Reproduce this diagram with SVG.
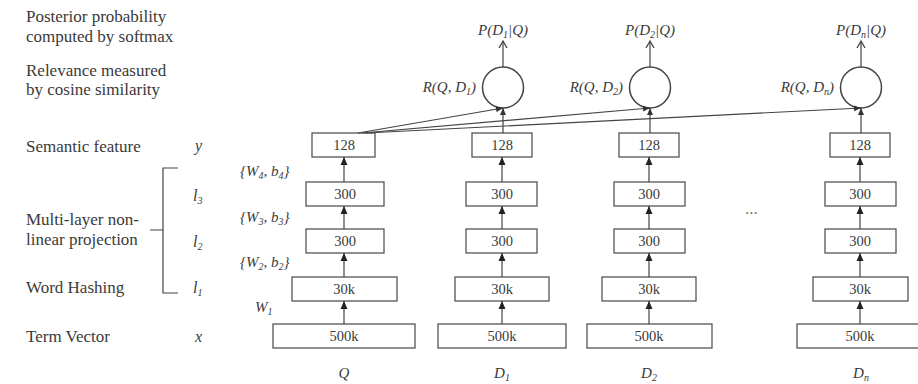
<svg xmlns="http://www.w3.org/2000/svg" width="918" height="384" viewBox="0 0 918 384">
<style>
text{font-family:"Liberation Serif","Times New Roman",serif;fill:#3a3a3a}
.lbl{font-size:17px}
.it{font-style:italic;font-size:15px}
.num{font-size:14.5px;text-anchor:middle}
.box{fill:#fff;stroke:#555;stroke-width:1.3}
.ln{stroke:#444;stroke-width:1.2;fill:none}
.cir{fill:#fff;stroke:#444;stroke-width:1.5}
.sub{font-size:10px}
</style>
<defs>
<marker id="fa" markerUnits="userSpaceOnUse" markerWidth="8" markerHeight="8" refX="8" refY="4" orient="auto"><path d="M0,0.5 L8,4 L0,7.5 z" fill="#222"/></marker>
<marker id="sa" markerUnits="userSpaceOnUse" markerWidth="7" markerHeight="7" refX="7" refY="3.5" orient="auto"><path d="M0,0.5 L7,3.5 L0,6.5 z" fill="#333"/></marker>
<marker id="oa" markerUnits="userSpaceOnUse" markerWidth="9" markerHeight="10" refX="7" refY="5" orient="auto"><path d="M0,1 L7,5 L0,9" fill="none" stroke="#444" stroke-width="1.3"/></marker>
</defs>

<g id="left-labels">
<text class="lbl" x="26" y="22">Posterior probability</text>
<text class="lbl" x="26" y="42">computed by softmax</text>
<text class="lbl" x="26" y="76">Relevance measured</text>
<text class="lbl" x="26" y="95">by cosine similarity</text>
<text class="lbl" x="26" y="152">Semantic feature</text>
<text class="lbl" x="26" y="225">Multi-layer non-</text>
<text class="lbl" x="26" y="245">linear projection</text>
<text class="lbl" x="26" y="293">Word Hashing</text>
<text class="lbl" x="26" y="342">Term Vector</text>
<text class="it" x="195" y="151" style="font-size:16px">y</text>
<text class="it" x="195" y="342" style="font-size:16px">x</text>
<text class="it" x="193" y="201" style="font-size:16px">l<tspan class="sub" dy="3">3</tspan></text>
<text class="it" x="193" y="247" style="font-size:16px">l<tspan class="sub" dy="3">2</tspan></text>
<text class="it" x="193" y="293" style="font-size:16px">l<tspan class="sub" dy="3">1</tspan></text>
<path class="ln" d="M178,168 H163 V293 H178 M150,230 H163"/>
</g>

<g id="weights">
<text class="it" x="240" y="176">{W<tspan class="sub" dy="3">4</tspan><tspan dy="-3">, b</tspan><tspan class="sub" dy="3">4</tspan><tspan dy="-3">}</tspan></text>
<text class="it" x="240" y="222">{W<tspan class="sub" dy="3">3</tspan><tspan dy="-3">, b</tspan><tspan class="sub" dy="3">3</tspan><tspan dy="-3">}</tspan></text>
<text class="it" x="240" y="267">{W<tspan class="sub" dy="3">2</tspan><tspan dy="-3">, b</tspan><tspan class="sub" dy="3">2</tspan><tspan dy="-3">}</tspan></text>
<text class="it" x="255" y="312">W<tspan class="sub" dy="3">1</tspan></text>
<text class="lbl" x="745" y="214" style="fill:#777">...</text>
</g>

<g id="col-Q">
<rect class="box" x="312" y="133" width="63" height="24"/><text class="num" x="344" y="150">128</text>
<rect class="box" x="306" y="182" width="78" height="24"/><text class="num" x="345" y="199">300</text>
<rect class="box" x="306" y="229" width="78" height="24"/><text class="num" x="345" y="246">300</text>
<rect class="box" x="292" y="277" width="105" height="24"/><text class="num" x="344" y="294">30k</text>
<rect class="box" x="273" y="324" width="142" height="24"/><text class="num" x="344" y="341">500k</text>
<text class="it" x="344" y="378" text-anchor="middle">Q</text>
</g>

<g id="col-D1">
<rect class="box" x="472" y="133" width="60" height="24"/><text class="num" x="502" y="150">128</text>
<rect class="box" x="466" y="182" width="71" height="24"/><text class="num" x="502" y="199">300</text>
<rect class="box" x="466" y="229" width="71" height="24"/><text class="num" x="502" y="246">300</text>
<rect class="box" x="455" y="277" width="94" height="24"/><text class="num" x="502" y="294">30k</text>
<rect class="box" x="438" y="324" width="128" height="24"/><text class="num" x="502" y="341">500k</text>
<text class="it" x="502" y="378" text-anchor="middle">D<tspan class="sub" dy="3">1</tspan></text>
<circle class="cir" cx="503" cy="87.5" r="20.5"/>
<text class="it" x="476" y="92" text-anchor="end">R(Q, D<tspan class="sub" dy="3">1</tspan><tspan dy="-3">)</tspan></text>
<text class="it" x="503" y="35" text-anchor="middle">P(D<tspan class="sub" dy="3">1</tspan><tspan dy="-3">|Q)</tspan></text>
</g>

<g id="col-D2">
<rect class="box" x="619" y="133" width="60" height="24"/><text class="num" x="649" y="150">128</text>
<rect class="box" x="614" y="182" width="71" height="24"/><text class="num" x="649" y="199">300</text>
<rect class="box" x="614" y="229" width="71" height="24"/><text class="num" x="649" y="246">300</text>
<rect class="box" x="602" y="277" width="94" height="24"/><text class="num" x="649" y="294">30k</text>
<rect class="box" x="587" y="324" width="125" height="24"/><text class="num" x="649" y="341">500k</text>
<text class="it" x="649" y="378" text-anchor="middle">D<tspan class="sub" dy="3">2</tspan></text>
<circle class="cir" cx="650" cy="87.5" r="20.5"/>
<text class="it" x="623" y="92" text-anchor="end">R(Q, D<tspan class="sub" dy="3">2</tspan><tspan dy="-3">)</tspan></text>
<text class="it" x="650" y="35" text-anchor="middle">P(D<tspan class="sub" dy="3">2</tspan><tspan dy="-3">|Q)</tspan></text>
</g>

<g id="col-Dn">
<rect class="box" x="830" y="133" width="60" height="24"/><text class="num" x="860" y="150">128</text>
<rect class="box" x="825" y="182" width="71" height="24"/><text class="num" x="860" y="199">300</text>
<rect class="box" x="825" y="229" width="71" height="24"/><text class="num" x="860" y="246">300</text>
<rect class="box" x="813" y="277" width="95" height="24"/><text class="num" x="860" y="294">30k</text>
<rect class="box" x="797" y="324" width="126" height="24"/><text class="num" x="860" y="341">500k</text>
<text class="it" x="861" y="378" text-anchor="middle">D<tspan class="sub" dy="3">n</tspan></text>
<circle class="cir" cx="861" cy="87.5" r="20.5"/>
<text class="it" x="834" y="92" text-anchor="end">R(Q, D<tspan class="sub" dy="3">n</tspan><tspan dy="-3">)</tspan></text>
<text class="it" x="861" y="35" text-anchor="middle">P(D<tspan class="sub" dy="3">n</tspan><tspan dy="-3">|Q)</tspan></text>
</g>

<g id="connectors">
<line class="ln" x1="344" y1="324" x2="344" y2="301" marker-end="url(#fa)"/>
<line class="ln" x1="344" y1="277" x2="344" y2="253" marker-end="url(#fa)"/>
<line class="ln" x1="344" y1="229" x2="344" y2="206" marker-end="url(#fa)"/>
<line class="ln" x1="344" y1="182" x2="344" y2="157" marker-end="url(#fa)"/>
<line class="ln" x1="502" y1="324" x2="502" y2="301" marker-end="url(#fa)"/>
<line class="ln" x1="502" y1="277" x2="502" y2="253" marker-end="url(#fa)"/>
<line class="ln" x1="502" y1="229" x2="502" y2="206" marker-end="url(#fa)"/>
<line class="ln" x1="502" y1="182" x2="502" y2="157" marker-end="url(#fa)"/>
<line class="ln" x1="503" y1="133" x2="503" y2="108" marker-end="url(#sa)"/>
<line class="ln" x1="503" y1="67" x2="503" y2="41" marker-end="url(#oa)"/>
<line class="ln" x1="649" y1="324" x2="649" y2="301" marker-end="url(#fa)"/>
<line class="ln" x1="649" y1="277" x2="649" y2="253" marker-end="url(#fa)"/>
<line class="ln" x1="649" y1="229" x2="649" y2="206" marker-end="url(#fa)"/>
<line class="ln" x1="649" y1="182" x2="649" y2="157" marker-end="url(#fa)"/>
<line class="ln" x1="650" y1="133" x2="650" y2="108" marker-end="url(#sa)"/>
<line class="ln" x1="650" y1="67" x2="650" y2="41" marker-end="url(#oa)"/>
<line class="ln" x1="860" y1="324" x2="860" y2="301" marker-end="url(#fa)"/>
<line class="ln" x1="860" y1="277" x2="860" y2="253" marker-end="url(#fa)"/>
<line class="ln" x1="860" y1="229" x2="860" y2="206" marker-end="url(#fa)"/>
<line class="ln" x1="860" y1="182" x2="860" y2="157" marker-end="url(#fa)"/>
<line class="ln" x1="861" y1="133" x2="861" y2="108" marker-end="url(#sa)"/>
<line class="ln" x1="861" y1="67" x2="861" y2="41" marker-end="url(#oa)"/>
<line class="ln" x1="358" y1="133" x2="503" y2="108" marker-end="url(#sa)"/>
<line class="ln" x1="362" y1="133" x2="650" y2="108" marker-end="url(#sa)"/>
<line class="ln" x1="366" y1="133" x2="861" y2="108" marker-end="url(#sa)"/>
</g>
</svg>
